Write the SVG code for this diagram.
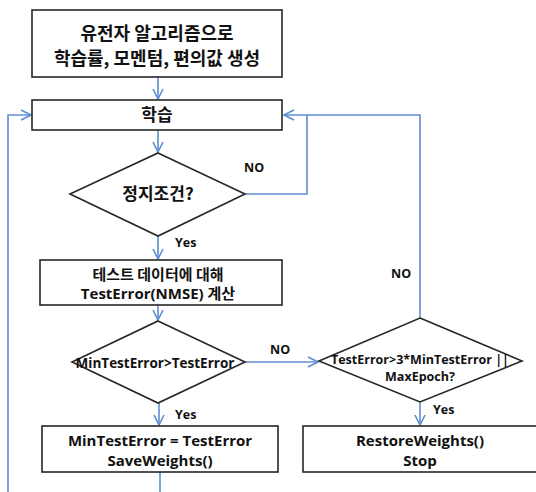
<svg xmlns="http://www.w3.org/2000/svg" width="536" height="492" viewBox="0 0 536 492">
<style>
.box{fill:#fff;stroke:#262626;stroke-width:1.6}
.con{fill:none;stroke:#5F8DD3;stroke-width:1.6}
.t{font-family:"Open Sans","Noto Sans CJK KR",sans-serif;font-weight:bold;fill:#111;text-anchor:middle}
.k{font-family:"Noto Sans CJK KR",sans-serif;font-weight:bold;fill:#111;text-anchor:middle}
.lbl{font-family:"Open Sans","Noto Sans CJK KR",sans-serif;font-weight:bold;fill:#111;font-size:12.5px}
</style>
<defs>
<marker id="arr" markerUnits="userSpaceOnUse" markerWidth="12" markerHeight="12" viewBox="0 0 12 12" refX="11" refY="6" orient="auto">
<path d="M1,1 L11,6 L1,11" fill="none" stroke="#5F8DD3" stroke-width="1.6"/>
</marker>
</defs>
<rect width="536" height="492" fill="#fff"/>
<g id="connectors">
<path class="con" d="M158,77 V99" marker-end="url(#arr)"/>
<path class="con" d="M8,492 V115 H31" marker-end="url(#arr)"/>
<path class="con" d="M158,130 V152" marker-end="url(#arr)"/>
<path class="con" d="M245,194 H307 V115"/>
<path class="con" d="M420,318 V115 H284" marker-end="url(#arr)"/>
<path class="con" d="M158,236 V259" marker-end="url(#arr)"/>
<path class="con" d="M158,305 V320" marker-end="url(#arr)"/>
<path class="con" d="M245,362 H318" marker-end="url(#arr)"/>
<path class="con" d="M159,403 V425" marker-end="url(#arr)"/>
<path class="con" d="M420,402 V425" marker-end="url(#arr)"/>
<path class="con" d="M160,472 V492"/>
<text class="lbl" x="244" y="172">NO</text>
<text class="lbl" x="175" y="247">Yes</text>
<text class="lbl" x="270" y="354">NO</text>
<text class="lbl" x="175" y="419">Yes</text>
<text class="lbl" x="391" y="278">NO</text>
<text class="lbl" x="433" y="414">Yes</text>
</g>
<g id="n_init">
<rect class="box" x="32" y="10" width="250" height="67"/>
<text class="k" x="157" y="40" font-size="18">유전자 알고리즘으로</text>
<text class="k" x="157" y="65" font-size="18">학습률, 모멘텀, 편의값 생성</text>
</g>
<g id="n_train">
<rect class="box" x="32" y="100" width="250" height="30"/>
<text class="k" x="157" y="121" font-size="17">학습</text>
</g>
<g id="n_stop">
<polygon class="box" points="158,153 245,194 158,236 70,194"/>
<text class="k" x="158" y="200" font-size="17">정지조건?</text>
</g>
<g id="n_test">
<rect class="box" x="40" y="260" width="242" height="45"/>
<text class="k" x="158" y="280" font-size="15">테스트 데이터에 대해</text>
<text class="t" x="158" y="299" font-size="15">TestError(NMSE) 계산</text>
</g>
<g id="n_cmp">
<polygon class="box" points="158,321 245,362 158,403 72,362"/>
<text class="t" x="155" y="368" font-size="13.5">MinTestError&gt;TestError</text>
</g>
<g id="n_save">
<rect class="box" x="42" y="426" width="236" height="46"/>
<text class="t" x="160" y="445.5" font-size="15">MinTestError = TestError</text>
<text class="t" x="160" y="466" font-size="15">SaveWeights()</text>
</g>
<g id="n_end_check">
<polygon class="box" points="420,318 522,361 420,402 319,361"/>
<text class="t" x="420" y="363.5" font-size="12.5">TestError&gt;3*MinTestError ||</text>
<text class="t" x="420" y="380.8" font-size="12.5">MaxEpoch?</text>
</g>
<g id="n_restore">
<rect class="box" x="303" y="426" width="240" height="46"/>
<text class="t" x="420" y="445.5" font-size="15">RestoreWeights()</text>
<text class="t" x="420" y="466" font-size="15">Stop</text>
</g>
</svg>
